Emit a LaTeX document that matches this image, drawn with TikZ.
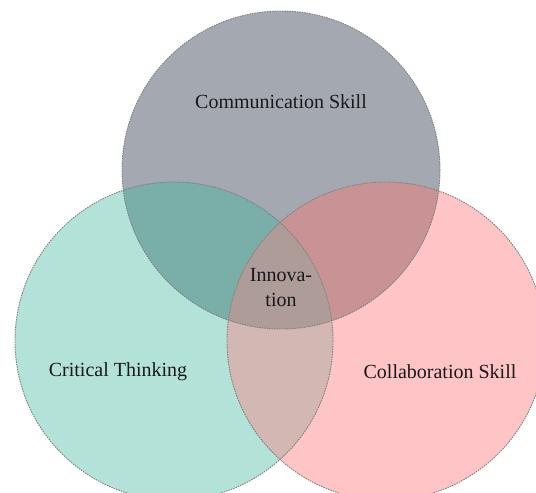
\documentclass[tikz,border=0pt]{standalone}
\usepackage{fontspec}
\setmainfont{Liberation Serif}

\definecolor{commgray}{HTML}{A4A9B1}
\definecolor{critteal}{HTML}{B3E2D8}
\definecolor{collabpink}{HTML}{FFC4C5}
\definecolor{commcrit}{HTML}{79AFA8}
\definecolor{commcollab}{HTML}{C99396}
\definecolor{critcollab}{HTML}{D2B7B2}
\definecolor{allthree}{HTML}{AE9C98}

\begin{document}
\begin{tikzpicture}[x=1pt, y=-1pt,
    r/.style={radius=159pt},
    rim/.style={draw=black!50, line width=0.9pt, dash pattern=on 1.5pt off 1pt},
    lbl/.style={font=\fontsize{20}{25}\selectfont, text=black!90, align=center}]
    \useasboundingbox (0,0) rectangle (536,493);
    \clip (0,0) rectangle (536,493);

    \coordinate (comm) at (281, 170);
    \coordinate (crit) at (174, 341);
    \coordinate (collab) at (386, 341);

    % plain circles
    \fill[critteal] (crit) circle [r];
    \fill[collabpink] (collab) circle [r];
    \fill[commgray] (comm) circle [r];

    % pairwise overlaps
    \begin{scope}
        \clip (comm) circle [r];
        \fill[commcrit] (crit) circle [r];
        \fill[commcollab] (collab) circle [r];
    \end{scope}
    \begin{scope}
        \clip (crit) circle [r];
        \fill[critcollab] (collab) circle [r];
        \clip (collab) circle [r];
        \fill[allthree] (comm) circle [r];
    \end{scope}

    % outlines
    \draw[rim] (comm) circle [r];
    \draw[rim] (crit) circle [r];
    \draw[rim] (collab) circle [r];

    \node[lbl] (commlbl) at (281, 102) {Communication Skill};
    \node[lbl] (critlbl) at (118, 372) {Critical Thinking};
    \node[lbl] (collablbl) at (440, 372) {Collaboration Skill};
    \node[lbl] (innov) at (281, 288) {Innova-\\tion};
\end{tikzpicture}
\end{document}
